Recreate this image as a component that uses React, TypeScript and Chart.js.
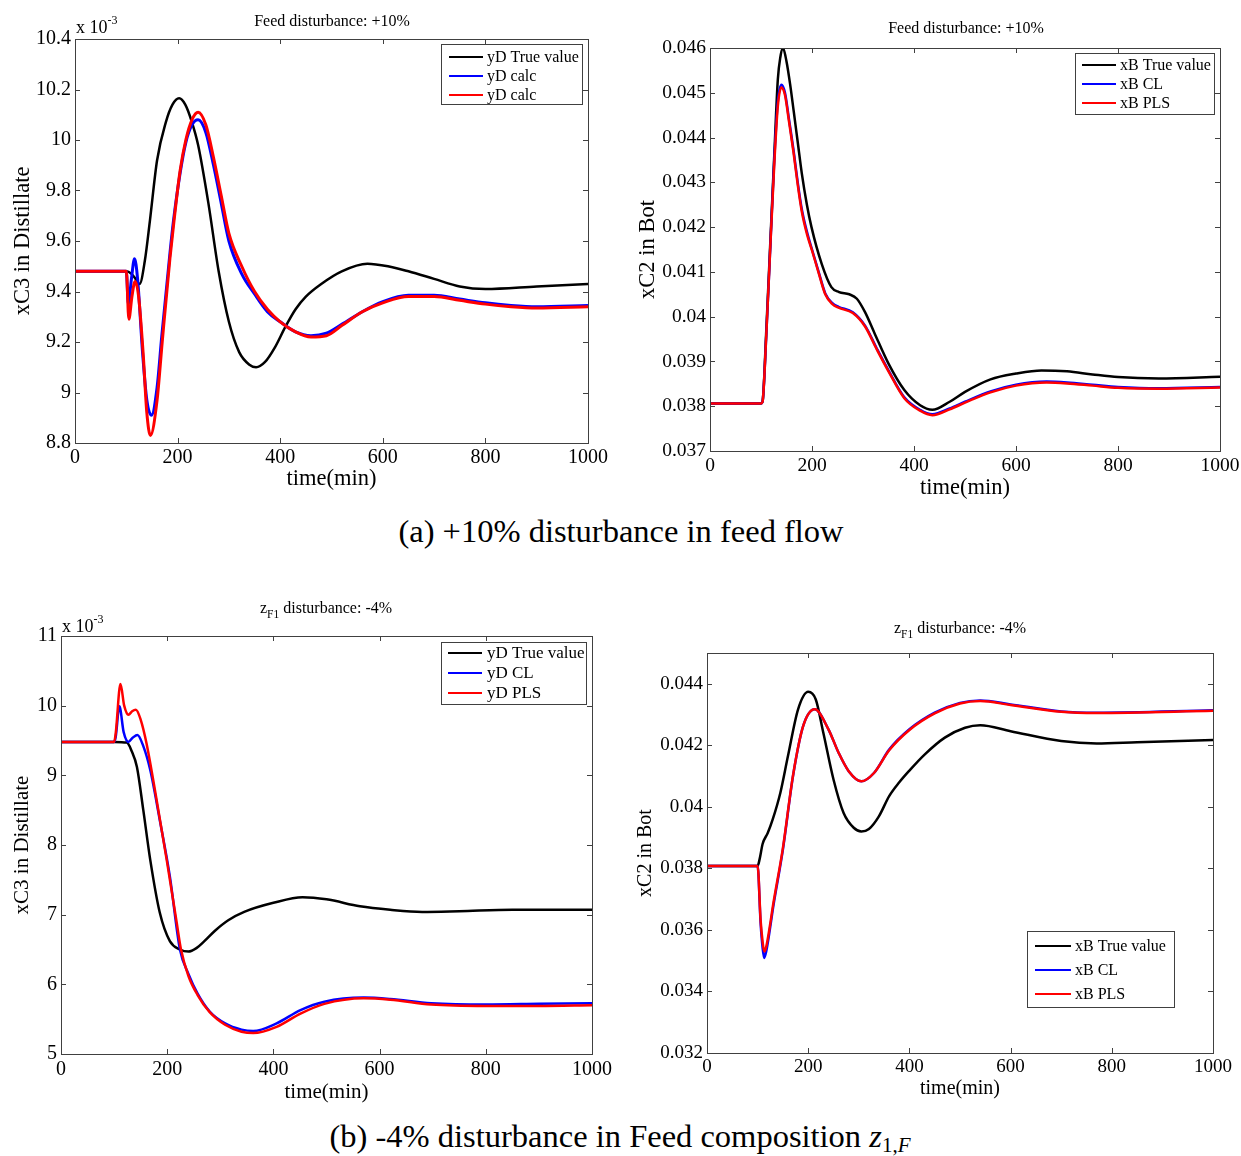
import React, { useEffect, useRef } from "react";
import { Chart, registerables } from "chart.js";

Chart.register(...registerables);

const FONT = '"Liberation Serif", "Times New Roman", Times, serif';

// ---------- shared ticks ----------
const X_TICKS = [0, 200, 400, 600, 800, 1000];

// ---------- (a) left: xC3 in Distillate (x 10^-3), feed +10% ----------
const A_Y_TICKS = [8.8, 9, 9.2, 9.4, 9.6, 9.8, 10, 10.2, 10.4];
const A_TRUE_T = [0, 100, 110, 118, 126, 136, 146, 160, 177, 190, 203, 215, 228, 240, 260, 280, 300, 320, 340, 353, 370, 390, 410, 430, 450, 480, 520, 570, 610, 650, 700, 750, 800, 900, 1000];
const A_TRUE_V = [9.48, 9.48, 9.47, 9.45, 9.43, 9.52, 9.68, 9.92, 10.07, 10.14, 10.165, 10.14, 10.07, 9.98, 9.75, 9.48, 9.28, 9.16, 9.11, 9.1, 9.12, 9.18, 9.26, 9.33, 9.38, 9.43, 9.48, 9.51, 9.5, 9.48, 9.45, 9.42, 9.41, 9.42, 9.43];
const A_CL_T = [0, 100, 104, 110, 116, 122, 132, 140, 149, 160, 169, 185, 192, 205, 216, 228, 240, 255, 270, 285, 300, 325, 350, 375, 400, 430, 460, 490, 520, 560, 600, 650, 700, 750, 800, 850, 900, 1000];
const A_CL_V = [9.48, 9.48, 9.35, 9.45, 9.53, 9.45, 9.15, 8.97, 8.91, 9.02, 9.22, 9.55, 9.68, 9.87, 9.99, 10.06, 10.08, 10.03, 9.9, 9.75, 9.6, 9.47, 9.39, 9.32, 9.28, 9.24, 9.225, 9.235, 9.27, 9.32, 9.36, 9.385, 9.385, 9.37, 9.355, 9.345, 9.34, 9.345];
const A_PLS_T = [0, 100, 105, 111, 117, 124, 133, 140, 147, 160, 170, 185, 193, 205, 216, 228, 240, 255, 270, 285, 300, 325, 350, 375, 400, 430, 460, 490, 520, 560, 600, 650, 700, 750, 800, 850, 900, 1000];
const A_PLS_V = [9.48, 9.48, 9.29, 9.38, 9.44, 9.38, 9.15, 8.92, 8.83, 8.97, 9.2, 9.53, 9.68, 9.88, 10.0, 10.08, 10.11, 10.06, 9.93, 9.78, 9.63, 9.5, 9.4, 9.33, 9.28, 9.24, 9.22, 9.225, 9.265, 9.32, 9.355, 9.38, 9.38, 9.365, 9.35, 9.34, 9.335, 9.34];

// ---------- (a) right: xC2 in Bot, feed +10% ----------
const B_Y_TICKS = [0.037, 0.038, 0.039, 0.04, 0.041, 0.042, 0.043, 0.044, 0.045, 0.046];
const B_TRUE_T = [0, 100, 103, 110, 118, 126, 133, 138, 143, 150, 157, 164, 172, 180, 190, 199, 219, 238, 253, 273, 288, 304, 323, 350, 381, 412, 436, 470, 500, 550, 600, 650, 700, 750, 800, 880, 1000];
const B_TRUE_V = [0.03806, 0.03806, 0.0381, 0.0396, 0.0416, 0.0436, 0.0453, 0.0458, 0.046, 0.0457, 0.0452, 0.0446, 0.0439, 0.0432, 0.0425, 0.042, 0.04118, 0.04066, 0.04055, 0.0405, 0.0404, 0.0401, 0.03962, 0.03895, 0.03836, 0.03802, 0.03792, 0.0381, 0.03832, 0.0386, 0.03873, 0.0388, 0.03878, 0.03871, 0.03865, 0.03862, 0.03866];
const B_EST_T = [0, 100, 103, 110, 118, 126, 133, 140, 147, 155, 164, 172, 180, 190, 200, 213, 226, 240, 252, 280, 304, 327, 350, 381, 412, 436, 470, 500, 550, 600, 660, 700, 750, 800, 880, 1000];
const B_CL_V = [0.03806, 0.03806, 0.0381, 0.0395, 0.0415, 0.0435, 0.0448, 0.04518, 0.045, 0.0444, 0.0437, 0.043, 0.0424, 0.0419, 0.0415, 0.041, 0.04052, 0.0403, 0.04022, 0.0401, 0.0398, 0.03929, 0.0388, 0.0382, 0.03792, 0.03782, 0.03795, 0.0381, 0.03833, 0.03848, 0.03855, 0.03853, 0.03848, 0.03843, 0.0384, 0.03843];
const B_PLS_V = [0.03806, 0.03806, 0.0381, 0.0395, 0.0415, 0.0434, 0.0447, 0.04512, 0.04495, 0.04435, 0.04365, 0.04295, 0.04235, 0.04185, 0.04148, 0.04098, 0.0405, 0.04028, 0.0402, 0.04008, 0.03978, 0.03927, 0.03878, 0.03818, 0.0379, 0.0378, 0.03793, 0.03808, 0.03831, 0.03846, 0.03853, 0.03851, 0.03846, 0.03841, 0.03839, 0.03842];

// ---------- (b) left: xC3 in Distillate (x 10^-3), zF1 -4% ----------
const C_Y_TICKS = [5, 6, 7, 8, 9, 10, 11];
const C_TRUE_T = [0, 100, 124, 133, 143, 155, 168, 186, 205, 224, 240, 255, 270, 290, 315, 345, 400, 455, 500, 563, 620, 680, 750, 850, 1000];
const C_TRUE_V = [9.48, 9.48, 9.47, 9.35, 9.12, 8.5, 7.79, 7.03, 6.62, 6.5, 6.47, 6.52, 6.62, 6.77, 6.92, 7.04, 7.17, 7.25, 7.22, 7.12, 7.07, 7.04, 7.05, 7.07, 7.07];
const C_CL_T = [0, 100, 103, 110, 118, 127, 135, 144, 155, 168, 186, 205, 224, 240, 257, 280, 309, 340, 362, 406, 451, 496, 570, 620, 697, 800, 900, 1000];
const C_CL_V = [9.48, 9.48, 9.55, 9.99, 9.62, 9.48, 9.54, 9.58, 9.42, 9.08, 8.36, 7.55, 6.5, 6.15, 5.87, 5.61, 5.44, 5.35, 5.33, 5.44, 5.63, 5.75, 5.81, 5.79, 5.73, 5.71, 5.72, 5.73];
const C_PLS_T = [0, 100, 103, 112, 119, 127, 134, 141, 150, 161, 180, 199, 218, 226, 240, 257, 280, 309, 340, 362, 406, 451, 496, 570, 620, 697, 800, 900, 1000];
const C_PLS_V = [9.48, 9.48, 9.6, 10.31, 10.0, 9.87, 9.92, 9.94, 9.8, 9.46, 8.65, 7.79, 6.88, 6.5, 6.12, 5.85, 5.6, 5.42, 5.32, 5.3, 5.39, 5.58, 5.72, 5.8, 5.78, 5.71, 5.69, 5.69, 5.7];

// ---------- (b) right: xC2 in Bot, zF1 -4% ----------
const D_Y_TICKS = [0.032, 0.034, 0.036, 0.038, 0.04, 0.042, 0.044];
const D_TRUE_T = [0, 100, 104, 110, 120, 130, 145, 160, 180, 200, 215, 230, 250, 270, 290, 305, 320, 340, 360, 380, 400, 430, 470, 510, 540, 600, 700, 770, 850, 1000];
const D_TRUE_V = [0.03808, 0.03808, 0.0383, 0.0388, 0.03915, 0.0396, 0.04046, 0.04165, 0.04317, 0.04374, 0.04349, 0.0424, 0.04089, 0.0398, 0.03932, 0.0392, 0.03928, 0.0397, 0.04035, 0.0408, 0.04118, 0.0417, 0.04225, 0.04257, 0.04265, 0.04246, 0.04214, 0.04206, 0.0421, 0.04217];
const D_EST_T = [0, 100, 106, 110, 113, 117, 125, 130, 150, 170, 190, 213, 240, 260, 280, 305, 330, 360, 400, 450, 500, 540, 600, 700, 770, 1000];
const D_CL_V = [0.03808, 0.03808, 0.0362, 0.0354, 0.03509, 0.0353, 0.0361, 0.03666, 0.03861, 0.041, 0.04262, 0.04317, 0.04252, 0.04176, 0.04116, 0.04083, 0.0411, 0.04186, 0.04252, 0.04306, 0.04338, 0.04346, 0.04333, 0.0431, 0.04306, 0.04314];
const D_PLS_V = [0.03808, 0.03808, 0.0363, 0.0356, 0.0353, 0.03545, 0.0362, 0.03675, 0.03866, 0.04102, 0.04262, 0.04317, 0.04252, 0.04176, 0.04116, 0.04083, 0.0411, 0.04184, 0.0425, 0.04304, 0.04336, 0.04344, 0.04331, 0.04309, 0.04305, 0.04312];

type Series = { label: string; color: string; t: number[]; v: number[]; width: number };
type PanelCfg = {
  canvas: { x: number; y: number; w: number; h: number };
  area: { l: number; t: number; r: number; b: number };
  yMin: number;
  yMax: number;
  yTicks: number[];
  tickSize: number;
  axisTitleSize: number;
  yTitle: string;
  yTitleX: number;
  xTitleY: number;
  xTickTop: number;
  series: Series[];
  legend: { box: [number, number, number, number]; rows: number[]; line: [number, number]; textX: number; size: number };
};

const fmt = (v: number) => String(parseFloat(Number(v).toFixed(6)));

const PANELS: PanelCfg[] = [
  {
    canvas: { x: 0, y: 28, w: 620, h: 472 },
    area: { l: 75, t: 39, r: 588, b: 443 },
    yMin: 8.8, yMax: 10.4, yTicks: A_Y_TICKS,
    tickSize: 20, axisTitleSize: 22.5,
    yTitle: "xC3 in Distillate", yTitleX: 23, xTitleY: 479, xTickTop: 448,
    series: [
      { label: "yD True value", color: "#000000", t: A_TRUE_T, v: A_TRUE_V, width: 2.5 },
      { label: "yD calc", color: "#0000ff", t: A_CL_T, v: A_CL_V, width: 3 },
      { label: "yD calc", color: "#ff0000", t: A_PLS_T, v: A_PLS_V, width: 3 },
    ],
    legend: { box: [441, 44, 582, 104], rows: [57, 76, 95], line: [449, 483], textX: 487, size: 16 },
  },
  {
    canvas: { x: 630, y: 28, w: 611, h: 477 },
    area: { l: 710, t: 48, r: 1220, b: 451 },
    yMin: 0.037, yMax: 0.046, yTicks: B_Y_TICKS,
    tickSize: 19.5, axisTitleSize: 22.5,
    yTitle: "xC2 in Bot", yTitleX: 648, xTitleY: 488, xTickTop: 456,
    series: [
      { label: "xB True value", color: "#000000", t: B_TRUE_T, v: B_TRUE_V, width: 2.5 },
      { label: "xB CL", color: "#0000ff", t: B_EST_T, v: B_CL_V, width: 2.5 },
      { label: "xB PLS", color: "#ff0000", t: B_EST_T, v: B_PLS_V, width: 2.5 },
    ],
    legend: { box: [1075, 53, 1214, 114], rows: [65, 84, 103], line: [1082, 1116], textX: 1120, size: 16 },
  },
  {
    canvas: { x: 0, y: 600, w: 620, h: 505 },
    area: { l: 61, t: 636, r: 592, b: 1054 },
    yMin: 5, yMax: 11, yTicks: C_Y_TICKS,
    tickSize: 20, axisTitleSize: 21,
    yTitle: "xC3 in Distillate", yTitleX: 22, xTitleY: 1092, xTickTop: 1060,
    series: [
      { label: "yD True value", color: "#000000", t: C_TRUE_T, v: C_TRUE_V, width: 2.5 },
      { label: "yD CL", color: "#0000ff", t: C_CL_T, v: C_CL_V, width: 2.5 },
      { label: "yD PLS", color: "#ff0000", t: C_PLS_T, v: C_PLS_V, width: 2.5 },
    ],
    legend: { box: [441, 642, 586, 704], rows: [653, 673, 693], line: [448, 482], textX: 487, size: 17 },
  },
  {
    canvas: { x: 630, y: 600, w: 611, h: 505 },
    area: { l: 707, t: 653, r: 1213, b: 1053 },
    yMin: 0.032, yMax: 0.045, yTicks: D_Y_TICKS,
    tickSize: 19, axisTitleSize: 20,
    yTitle: "xC2 in Bot", yTitleX: 646, xTitleY: 1089, xTickTop: 1058,
    series: [
      { label: "xB True value", color: "#000000", t: D_TRUE_T, v: D_TRUE_V, width: 2.5 },
      { label: "xB CL", color: "#0000ff", t: D_EST_T, v: D_CL_V, width: 2.5 },
      { label: "xB PLS", color: "#ff0000", t: D_EST_T, v: D_PLS_V, width: 2.5 },
    ],
    legend: { box: [1027, 931, 1174, 1007], rows: [946, 970, 994], line: [1035, 1071], textX: 1075, size: 16 },
  },
];

function framePlugin() {
  return {
    id: "matlabFrame",
    afterDatasetsDraw(chart: any) {
      const { ctx, chartArea: a, scales } = chart;
      const L = 5;
      ctx.save();
      ctx.strokeStyle = "#404040";
      ctx.lineWidth = 1;
      ctx.beginPath();
      for (const t of scales.x.ticks) {
        const px = Math.round(scales.x.getPixelForValue(t.value)) + 0.5;
        ctx.moveTo(px, a.bottom);
        ctx.lineTo(px, a.bottom - L);
        ctx.moveTo(px, a.top);
        ctx.lineTo(px, a.top + L);
      }
      for (const t of scales.y.ticks) {
        const py = Math.round(scales.y.getPixelForValue(t.value)) + 0.5;
        ctx.moveTo(a.left, py);
        ctx.lineTo(a.left + L, py);
        ctx.moveTo(a.right, py);
        ctx.lineTo(a.right - L, py);
      }
      ctx.stroke();
      ctx.strokeRect(Math.round(a.left) + 0.5, Math.round(a.top) + 0.5, Math.round(a.right - a.left), Math.round(a.bottom - a.top));
      ctx.restore();
    },
  };
}

function legendPlugin(cfg: PanelCfg) {
  return {
    id: "boxLegend",
    afterDraw(chart: any) {
      const { ctx } = chart;
      const ox = cfg.canvas.x;
      const oy = cfg.canvas.y;
      const [x1, y1, x2, y2] = cfg.legend.box;
      ctx.save();
      ctx.fillStyle = "#ffffff";
      ctx.fillRect(x1 - ox, y1 - oy, x2 - x1, y2 - y1);
      ctx.strokeStyle = "#404040";
      ctx.lineWidth = 1;
      ctx.strokeRect(x1 - ox + 0.5, y1 - oy + 0.5, x2 - x1, y2 - y1);
      ctx.font = `${cfg.legend.size}px ${FONT}`;
      ctx.textBaseline = "middle";
      ctx.textAlign = "left";
      chart.data.datasets.forEach((d: any, i: number) => {
        const y = cfg.legend.rows[i] - oy;
        ctx.strokeStyle = d.borderColor;
        ctx.lineWidth = 2;
        ctx.beginPath();
        ctx.moveTo(cfg.legend.line[0] - ox, y);
        ctx.lineTo(cfg.legend.line[1] - ox, y);
        ctx.stroke();
        ctx.fillStyle = "#000";
        ctx.fillText(d.label, cfg.legend.textX - ox, y + 1);
      });
      ctx.restore();
    },
  };
}

function Panel({ cfg }: { cfg: PanelCfg }) {
  const ref = useRef<HTMLCanvasElement | null>(null);
  useEffect(() => {
    const canvas = ref.current;
    if (!canvas) return;
    const c = cfg;
    const padTop = c.area.t - c.canvas.y;
    const padRight = c.canvas.x + c.canvas.w - c.area.r;
    const yWidth = c.area.l - c.canvas.x;
    const xHeight = c.canvas.y + c.canvas.h - c.area.b;
    const ts = c.axisTitleSize;
    const n = c.series.length;
    const chart = new Chart(canvas, {
      type: "line",
      data: {
        datasets: c.series.map((s, i) => ({
          label: s.label,
          data: s.t.map((t, k) => ({ x: t, y: s.v[k] })),
          borderColor: s.color,
          backgroundColor: s.color,
          borderWidth: s.width,
          pointRadius: 0,
          pointHoverRadius: 0,
          fill: false,
          cubicInterpolationMode: "monotone" as const,
          order: n - i,
        })),
      },
      options: {
        responsive: false,
        animation: false,
        devicePixelRatio: 1,
        events: [],
        layout: { padding: { left: 0, top: padTop, right: padRight, bottom: 0 } },
        plugins: {
          legend: { display: false },
          tooltip: { enabled: false },
          title: { display: false },
        },
        scales: {
          x: {
            type: "linear",
            position: "bottom",
            min: 0,
            max: 1000,
            afterBuildTicks: (s: any) => {
              s.ticks = X_TICKS.map((v) => ({ value: v }));
            },
            afterFit: (s: any) => {
              s.height = xHeight;
              s.paddingLeft = 0;
              s.paddingRight = 0;
            },
            grid: { display: false, drawTicks: false },
            border: { display: false },
            ticks: {
              autoSkip: false,
              maxRotation: 0,
              minRotation: 0,
              color: "#000",
              padding: c.xTickTop - c.area.b,
              font: { family: FONT, size: c.tickSize, lineHeight: 1 },
              callback: (v: any) => fmt(v),
            },
            title: {
              display: true,
              text: "time(min)",
              color: "#000",
              font: { family: FONT, size: ts, lineHeight: 1 },
              padding: { top: 0, bottom: c.canvas.y + c.canvas.h - c.xTitleY - ts / 2 },
            },
          },
          y: {
            type: "linear",
            position: "left",
            min: c.yMin,
            max: c.yMax,
            afterBuildTicks: (s: any) => {
              s.ticks = c.yTicks.map((v) => ({ value: v }));
            },
            afterFit: (s: any) => {
              s.width = yWidth;
              s.paddingTop = 0;
              s.paddingBottom = 0;
            },
            grid: { display: false, drawTicks: false },
            border: { display: false },
            ticks: {
              autoSkip: false,
              color: "#000",
              padding: 4,
              font: { family: FONT, size: c.tickSize, lineHeight: 1 },
              callback: (v: any) => fmt(v),
            },
            title: {
              display: true,
              text: c.yTitle,
              color: "#000",
              font: { family: FONT, size: ts, lineHeight: 1 },
              padding: { top: c.yTitleX - c.canvas.x - ts / 2, bottom: 0 },
            },
          },
        },
      },
      plugins: [framePlugin(), legendPlugin(c)],
    } as any);
    return () => chart.destroy();
  }, [cfg]);
  return (
    <canvas
      ref={ref}
      width={cfg.canvas.w}
      height={cfg.canvas.h}
      style={{ position: "absolute", left: cfg.canvas.x, top: cfg.canvas.y, width: cfg.canvas.w, height: cfg.canvas.h }}
    />
  );
}

const base: React.CSSProperties = {
  position: "absolute",
  fontFamily: FONT,
  color: "#000",
  whiteSpace: "nowrap",
  lineHeight: 1,
};

function Centered({ cx, top, size, children }: { cx: number; top: number; size: number; children: React.ReactNode }) {
  return (
    <div style={{ ...base, left: cx - 400, width: 800, top, fontSize: size, textAlign: "center" }}>{children}</div>
  );
}

function Sub({ size, drop, children, italic }: { size: number; drop: number; children: React.ReactNode; italic?: boolean }) {
  return (
    <span style={{ fontSize: size, position: "relative", top: drop, fontStyle: italic ? "italic" : "normal" }}>{children}</span>
  );
}

export default function App() {
  return (
    <div style={{ position: "fixed", left: 0, top: 0, width: 1241, height: 1156, background: "#fff", overflow: "hidden" }}>
      {PANELS.map((p, i) => (
        <Panel key={i} cfg={p} />
      ))}

      <Centered cx={332} top={13} size={16}>Feed disturbance: +10%</Centered>
      <Centered cx={966} top={20} size={16}>Feed disturbance: +10%</Centered>
      <Centered cx={326} top={600} size={16}>
        z<Sub size={11.5} drop={5}>F1</Sub> disturbance: -4%
      </Centered>
      <Centered cx={960} top={620} size={16}>
        z<Sub size={11.5} drop={5}>F1</Sub> disturbance: -4%
      </Centered>

      <div style={{ ...base, left: 76, top: 18, fontSize: 18 }}>
        x 10<Sub size={12} drop={-9}>-3</Sub>
      </div>
      <div style={{ ...base, left: 62, top: 617, fontSize: 18 }}>
        x 10<Sub size={12} drop={-9}>-3</Sub>
      </div>

      <Centered cx={621} top={515} size={32.5}>(a) +10% disturbance in feed flow</Centered>
      <Centered cx={620} top={1120} size={32.5}>
        (b) -4% disturbance in Feed composition <i>z</i>
        <Sub size={21} drop={5}>
          1,<i>F</i>
        </Sub>
      </Centered>
    </div>
  );
}
